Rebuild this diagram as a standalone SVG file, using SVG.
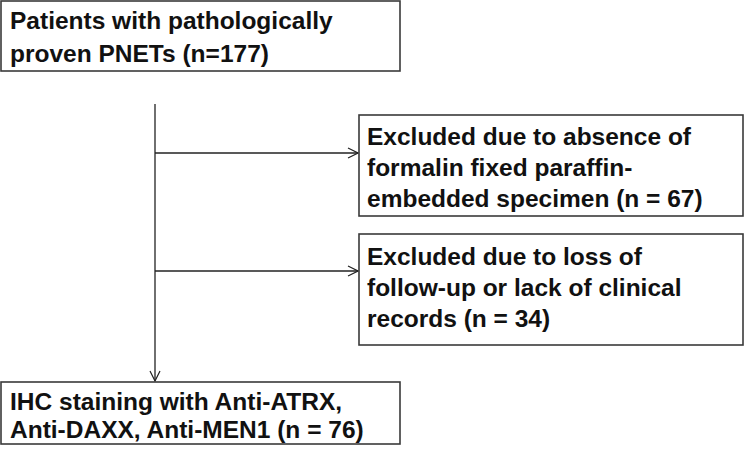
<svg xmlns="http://www.w3.org/2000/svg" width="745" height="454" viewBox="0 0 745 454">
<defs>
<marker id="arr" viewBox="0 0 12 12" refX="11" refY="6" markerWidth="12" markerHeight="12" markerUnits="userSpaceOnUse" orient="auto">
<path d="M1,1 L11,6 L1,11" fill="none" stroke="#222" stroke-width="1.2"/>
</marker>
<style>
.box{fill:#fff;stroke:#3a3a3a;stroke-width:1.6}
.t{font-family:"Liberation Sans",Arial,sans-serif;font-weight:bold;font-size:24.5px;fill:#111}
.c{stroke:#222;stroke-width:1.3;fill:none;marker-end:url(#arr)}
</style>
</defs>
<rect width="745" height="454" fill="#fff"/>
<g id="connectors">
<line class="c" x1="155" y1="104" x2="155" y2="381"/>
<line class="c" x1="155" y1="153" x2="358" y2="153"/>
<line class="c" x1="155" y1="271" x2="358" y2="271"/>
</g>
<g id="n1">
<rect class="box" x="1" y="1" width="399" height="70"/>
<text class="t" x="10" y="29">Patients with pathologically</text>
<text class="t" x="10" y="62">proven PNETs (n=177)</text>
</g>
<g id="n2">
<rect class="box" x="359" y="115" width="384" height="101"/>
<text class="t" x="367" y="145">Excluded due to absence of</text>
<text class="t" x="367" y="176">formalin fixed paraffin-</text>
<text class="t" x="367" y="207">embedded specimen (n = 67)</text>
</g>
<g id="n3">
<rect class="box" x="359" y="234" width="384" height="111"/>
<text class="t" x="367" y="265">Excluded due to loss of</text>
<text class="t" x="367" y="296">follow-up or lack of clinical</text>
<text class="t" x="367" y="327">records (n = 34)</text>
</g>
<g id="n4">
<rect class="box" x="1" y="382" width="399" height="62"/>
<text class="t" x="10" y="410">IHC staining with Anti-ATRX,</text>
<text class="t" x="10" y="438">Anti-DAXX, Anti-MEN1 (n = 76)</text>
</g>
</svg>
